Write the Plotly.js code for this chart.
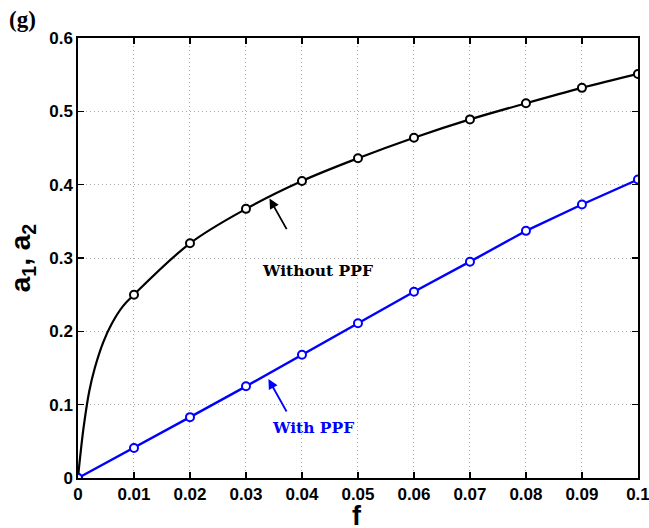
<!DOCTYPE html>
<html><head><meta charset="utf-8">
<script src="https://cdn.plot.ly/plotly-3.0.1.min.js"></script>
<style>html,body{margin:0;padding:0;background:#fff}#plot{width:649px;height:528px}</style>
</head><body><div id="plot"></div>
<script>
// Marker values
const fMarks = [0, 0.01, 0.02, 0.03, 0.04, 0.05, 0.06, 0.07, 0.08, 0.09, 0.1];
const withoutPPF = [0, 0.250, 0.320, 0.367, 0.405, 0.436, 0.464, 0.489, 0.511, 0.532, 0.551];
const withPPF = [0, 0.041, 0.083, 0.125, 0.168, 0.211, 0.254, 0.295, 0.337, 0.373, 0.407];
// Fine curve for the steep start of the black line
const fCurveStart = [0, 0.0004, 0.001, 0.002, 0.003, 0.0045, 0.006, 0.008];
const withoutCurveStart = [0, 0.030, 0.069, 0.118, 0.150, 0.185, 0.210, 0.234];
const xTicks = [0, 0.01, 0.02, 0.03, 0.04, 0.05, 0.06, 0.07, 0.08, 0.09, 0.1];
const xTickText = ['0','0.01','0.02','0.03','0.04','0.05','0.06','0.07','0.08','0.09','0.1'];
const yTicks = [0, 0.1, 0.2, 0.3, 0.4, 0.5, 0.6];
const yTickText = ['0','0.1','0.2','0.3','0.4','0.5','0.6'];

const curveX = fCurveStart.concat(fMarks.slice(1));
const curveY = withoutCurveStart.concat(withoutPPF.slice(1));

const traces = [
  {x: curveX, y: curveY, mode: 'lines', line: {color: '#000', width: 2.2, shape: 'spline', smoothing: 1}, hoverinfo: 'skip'},
  {x: fMarks, y: withoutPPF, mode: 'markers', marker: {symbol: 'circle', size: 8, color: '#fff', line: {color: '#000', width: 2}}},
  {x: fMarks, y: withPPF, mode: 'lines+markers', line: {color: '#0000ff', width: 2.4}, marker: {symbol: 'circle', size: 8, color: '#fff', line: {color: '#0000ff', width: 2}}}
];

const tickFont = {family: 'Liberation Sans, Arial, sans-serif', size: 17, color: '#000', weight: 'bold'};
const gridStyle = {showgrid: true, gridcolor: '#aaa', griddash: '1px,3px', gridwidth: 1};
const layout = {
  width: 649, height: 528,
  margin: {l: 78, r: 11, t: 38, b: 50},
  paper_bgcolor: '#fff', plot_bgcolor: '#fff',
  showlegend: false,
  font: {family: 'Liberation Sans, Arial, sans-serif', color: '#000'},
  xaxis: Object.assign({
    range: [0, 0.10001], tickvals: xTicks, ticktext: xTickText, tickfont: tickFont,
    zeroline: false, showline: true, linecolor: '#000', linewidth: 1.6, mirror: 'ticks',
    ticks: 'inside', ticklen: 6, tickcolor: '#000', tickwidth: 1.2, ticklabeloverflow: 'allow'
  }, gridStyle),
  yaxis: Object.assign({
    range: [0, 0.6], tickvals: yTicks, ticktext: yTickText, tickfont: tickFont,
    zeroline: false, showline: true, linecolor: '#000', linewidth: 1.6, mirror: 'ticks',
    ticks: 'inside', ticklen: 6, tickcolor: '#000', tickwidth: 1.2,
    title: {text: '<b>a<sub>1</sub>, a<sub>2</sub></b>', font: {size: 28, family: 'Liberation Sans, Arial, sans-serif'}, standoff: 10}
  }, gridStyle),
  annotations: [
    {x: 0.0342, y: 0.381, xref: 'x', yref: 'y', ax: 18, ay: 32, showarrow: true, arrowhead: 2, arrowsize: 1.1, arrowwidth: 1.8, arrowcolor: '#000', text: ''},
    {x: 0.0340, y: 0.135, xref: 'x', yref: 'y', ax: 19, ay: 34, showarrow: true, arrowhead: 2, arrowsize: 1.1, arrowwidth: 1.8, arrowcolor: '#0000ff', text: ''},
    {x: 317, y: 270, text: '<b>Without PPF</b>', showarrow: false,
     font: {family: 'DejaVu Serif, Liberation Serif, serif', size: 15.5, color: '#000'}},
    {x: 313, y: 427, text: '<b>With PPF</b>', showarrow: false,
     font: {family: 'DejaVu Serif, Liberation Serif, serif', size: 15.5, color: '#0000ff'}},
    {x: 22, y: 20, text: '<b>(g)</b>', showarrow: false,
     font: {family: 'Liberation Serif, Times New Roman, serif', size: 23, color: '#000'}},
    {x: 357, y: 516, text: '<b>f</b>', showarrow: false,
     font: {family: 'Liberation Sans, Arial, sans-serif', size: 27, color: '#000'}}
  ]
};
// convert pixel-positioned text annotations to paper coords
const pw = 649 - 78 - 11, ph = 528 - 38 - 50;
layout.annotations.forEach(a => {
  if (a.text && a.text.length) {
    a.xref = 'paper'; a.yref = 'paper';
    a.x = (a.x - 78) / pw; a.y = 1 - (a.y - 38) / ph;
    a.xanchor = 'center'; a.yanchor = 'middle';
  }
});
Plotly.newPlot('plot', traces, layout, {displayModeBar: false, staticPlot: true});
</script>
</body></html>
